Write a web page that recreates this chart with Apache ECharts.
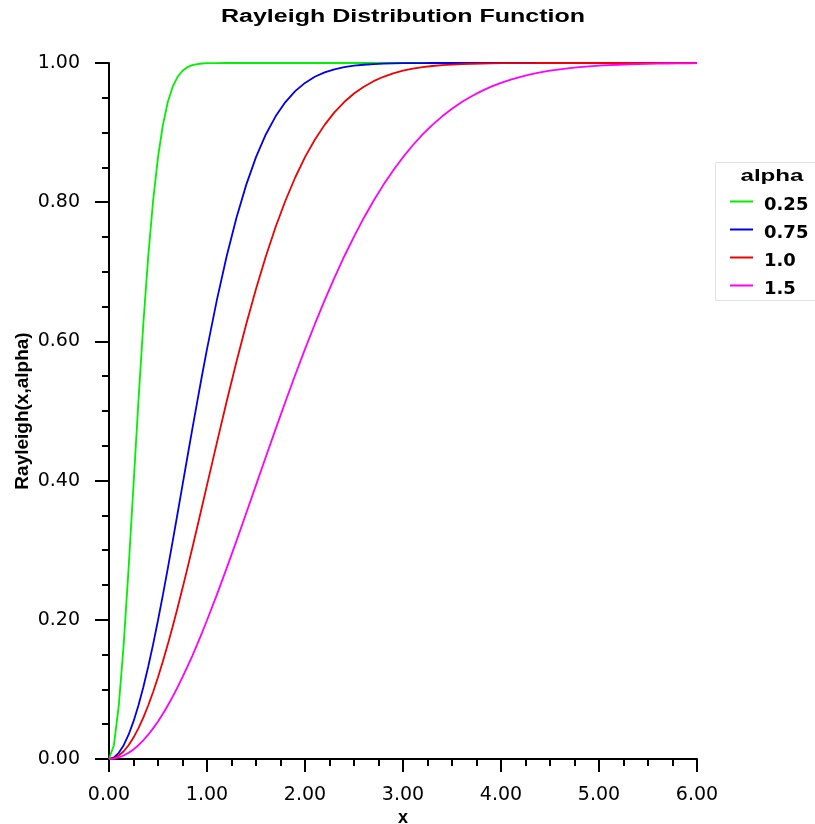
<!DOCTYPE html>
<html>
<head>
<meta charset="utf-8">
<title>Rayleigh Distribution Function</title>
<script src="https://cdn.jsdelivr.net/npm/echarts@6/dist/echarts.min.js"></script>
<style>
  html, body { margin: 0; padding: 0; background: #fff; }
  #chart { width: 815px; height: 824px; }
</style>
</head>
<body>
<div id="chart"></div>
<script>
// Sample positions along x (finer steps where the steep curves live)
const xs = [
  0, 0.05, 0.1, 0.15, 0.2, 0.25, 0.3, 0.35, 0.4, 0.45, 0.5, 0.55, 0.6, 0.65, 0.7, 0.75, 0.8, 0.85, 0.9, 0.95, 1.0,
  1.1, 1.2, 1.3, 1.4, 1.5, 1.6, 1.7, 1.8, 1.9, 2.0,
  2.1, 2.2, 2.3, 2.4, 2.5, 2.6, 2.7, 2.8, 2.9, 3.0,
  3.1, 3.2, 3.3, 3.4, 3.5, 3.6, 3.7, 3.8, 3.9, 4.0,
  4.1, 4.2, 4.3, 4.4, 4.5, 4.6, 4.7, 4.8, 4.9, 5.0,
  5.1, 5.2, 5.3, 5.4, 5.5, 5.6, 5.7, 5.8, 5.9, 6.0
];

// Cumulative Rayleigh values for each alpha
const alpha025 = [
  0, 0.0198, 0.0769, 0.1647, 0.2739, 0.3935, 0.5132, 0.6247, 0.7220, 0.8021, 0.8647, 0.9111, 0.9439, 0.9660, 0.9802, 0.9889, 0.9940, 0.9969, 0.9985, 0.9993, 0.9997,
  0.9999, 1, 1, 1, 1, 1, 1, 1, 1, 1,
  1, 1, 1, 1, 1, 1, 1, 1, 1, 1,
  1, 1, 1, 1, 1, 1, 1, 1, 1, 1,
  1, 1, 1, 1, 1, 1, 1, 1, 1, 1,
  1, 1, 1, 1, 1, 1, 1, 1, 1, 1
];
const alpha075 = [
  0, 0.0022, 0.0089, 0.0198, 0.0349, 0.0540, 0.0769, 0.1032, 0.1326, 0.1647, 0.1993, 0.2358, 0.2739, 0.3131, 0.3531, 0.3935, 0.4339, 0.4739, 0.5132, 0.5517, 0.5889,
  0.6589, 0.7220, 0.7774, 0.8249, 0.8647, 0.8973, 0.9234, 0.9439, 0.9596, 0.9714,
  0.9802, 0.9865, 0.9909, 0.9940, 0.9961, 0.9975, 0.9985, 0.9991, 0.9994, 0.9997,
  0.9998, 0.9999, 1, 1, 1, 1, 1, 1, 1, 1,
  1, 1, 1, 1, 1, 1, 1, 1, 1, 1,
  1, 1, 1, 1, 1, 1, 1, 1, 1, 1
];
const alpha10 = [
  0, 0.0012, 0.0050, 0.0112, 0.0198, 0.0308, 0.0440, 0.0594, 0.0769, 0.0963, 0.1175, 0.1404, 0.1647, 0.1904, 0.2173, 0.2452, 0.2739, 0.3032, 0.3330, 0.3632, 0.3935,
  0.4539, 0.5132, 0.5704, 0.6247, 0.6753, 0.7220, 0.7643, 0.8021, 0.8355, 0.8647,
  0.8897, 0.9111, 0.9290, 0.9439, 0.9561, 0.9660, 0.9739, 0.9802, 0.9851, 0.9889,
  0.9918, 0.9940, 0.9957, 0.9969, 0.9978, 0.9985, 0.9989, 0.9993, 0.9995, 0.9997,
  0.9998, 0.9999, 0.9999, 1, 1, 1, 1, 1, 1, 1,
  1, 1, 1, 1, 1, 1, 1, 1, 1, 1
];
const alpha15 = [
  0, 0.0006, 0.0022, 0.0050, 0.0089, 0.0138, 0.0198, 0.0269, 0.0349, 0.0440, 0.0540, 0.0650, 0.0769, 0.0896, 0.1032, 0.1175, 0.1326, 0.1483, 0.1647, 0.1817, 0.1993,
  0.2358, 0.2739, 0.3131, 0.3531, 0.3935, 0.4339, 0.4739, 0.5132, 0.5517, 0.5889,
  0.6247, 0.6589, 0.6914, 0.7220, 0.7506, 0.7774, 0.8021, 0.8249, 0.8457, 0.8647,
  0.8818, 0.8973, 0.9111, 0.9234, 0.9343, 0.9439, 0.9523, 0.9596, 0.9660, 0.9714,
  0.9761, 0.9802, 0.9836, 0.9865, 0.9889, 0.9909, 0.9926, 0.9940, 0.9952, 0.9961,
  0.9969, 0.9975, 0.9981, 0.9985, 0.9988, 0.9991, 0.9993, 0.9994, 0.9996, 0.9997
];

const seriesNames = ['0.25', '0.75', '1.0', '1.5'];
const seriesValues = [alpha025, alpha075, alpha10, alpha15];
const seriesColors = ['#00f000', '#0000f0', '#f00000', '#ff00ff'];

const chart = echarts.init(document.getElementById('chart'), null, { renderer: 'canvas' });

const tickFont = 'DejaVu Sans';

const option = {
  animation: false,
  backgroundColor: '#ffffff',
  grid: { left: 109, top: 63, width: 588, height: 696, containLabel: false, outerBoundsMode: 'none' },
  xAxis: {
    type: 'value',
    min: 0, max: 6, interval: 1,
    name: 'x',
    nameLocation: 'middle',
    nameGap: 50,
    nameMoveOverlap: false,
    nameTextStyle: { fontFamily: 'Liberation Sans', fontWeight: 'bold', fontSize: 18, color: '#000' },
    axisLine: { show: true, onZero: false, lineStyle: { color: '#000', width: 2 } },
    axisTick: { show: true, length: 13, lineStyle: { color: '#000', width: 2 } },
    minorTick: { show: true, splitNumber: 4, length: 7, lineStyle: { color: '#000', width: 2 } },
    splitLine: { show: false },
    axisLabel: {
      margin: 27,
      fontFamily: tickFont, fontSize: 19, color: '#000',
      formatter: v => v.toFixed(2)
    }
  },
  yAxis: {
    type: 'value',
    min: 0, max: 1, interval: 0.2,
    name: 'Rayleigh(x,alpha)',
    nameLocation: 'middle',
    nameRotate: 90,
    nameGap: 77,
    nameMoveOverlap: false,
    nameTextStyle: { fontFamily: 'Liberation Sans', fontWeight: 'bold', fontSize: 19, color: '#000' },
    axisLine: { show: true, onZero: false, lineStyle: { color: '#000', width: 2 } },
    axisTick: { show: true, length: 14, lineStyle: { color: '#000', width: 2 } },
    minorTick: { show: true, splitNumber: 4, length: 7, lineStyle: { color: '#000', width: 2 } },
    splitLine: { show: false },
    axisLabel: {
      margin: 29,
      fontFamily: tickFont, fontSize: 19, color: '#000',
      formatter: v => v.toFixed(2)
    }
  },
  legend: {
    orient: 'vertical',
    left: 725,
    top: 191,
    // short line sample sitting a little above the label's middle
    icon: 'path://M0,0H23V2H0Z M0,9H0.05V9.05H0Z',
    itemWidth: 23,
    itemHeight: 9.05,
    itemGap: 10,
    data: seriesNames,
    textStyle: {
      fontFamily: 'DejaVu Sans', fontWeight: 'bold', fontSize: 18, color: '#000',
      lineHeight: 18, padding: [0, 0, 0, 6]
    }
  },
  graphic: [
    {
      type: 'rect', z: 0,
      shape: { x: 715.5, y: 162.5, width: 120, height: 138 },
      style: { fill: '#fff', stroke: '#e2e2e2', lineWidth: 1 }
    },
    {
      type: 'text', z: 5,
      x: 772, y: 176, scaleX: 1.42,
      style: {
        text: 'alpha', fill: '#000',
        font: 'bold 17px "Liberation Sans"',
        align: 'center', verticalAlign: 'middle'
      }
    },
    {
      type: 'text', z: 5,
      x: 403, y: 17, scaleX: 1.39,
      style: {
        text: 'Rayleigh Distribution Function', fill: '#000',
        font: 'bold 18px "Liberation Sans"',
        align: 'center', verticalAlign: 'middle'
      }
    }
  ],
  series: seriesNames.map((name, i) => ({
    name: name,
    type: 'line',
    symbol: 'none',
    smooth: false,
    color: seriesColors[i],
    lineStyle: { color: seriesColors[i], width: 1.8 },
    data: xs.map((x, k) => [x, seriesValues[i][k]])
  }))
};

chart.setOption(option);
</script>
</body>
</html>
